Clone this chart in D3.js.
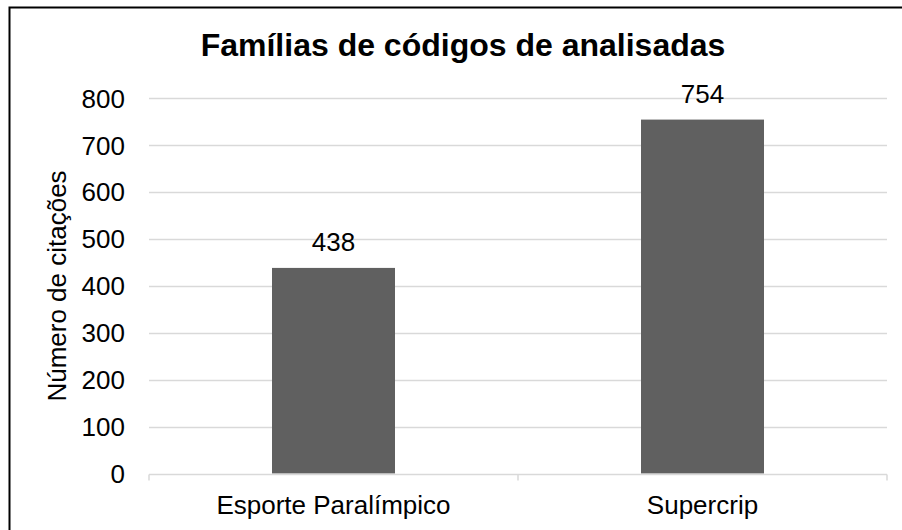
<!DOCTYPE html>
<html><head><meta charset="utf-8">
<script src="https://cdn.jsdelivr.net/npm/d3@7"></script>
<style>body{margin:0;background:#fff}svg{display:block}text{font-family:"Liberation Sans",Arial,sans-serif}</style>
</head><body>
<svg id="c" width="902" height="530"></svg>
<script>
const categories = ["Esporte Paralímpico", "Supercrip"];
const values = [438, 754];
const yTicks = [0, 100, 200, 300, 400, 500, 600, 700, 800];
const title = "Famílias de códigos de analisadas";
const yTitle = "Número de citações";

const svg = d3.select("#c");
svg.append("rect").attr("x", 0).attr("y", 0).attr("width", 902).attr("height", 530).attr("fill", "#fff");
svg.append("rect").attr("x", 9.5).attr("y", 7.5).attr("width", 910).attr("height", 540)
  .attr("fill", "none").attr("stroke", "#000").attr("stroke-width", 2);

const m = {left: 149, right: 887, top: 98, bottom: 473.5};
const x = d3.scaleBand().domain(categories).range([m.left, m.right]).paddingInner(0).paddingOuter(0);
const y = d3.scaleLinear().domain([0, 800]).range([m.bottom, m.top]);
const FS = 26;

// gridlines
svg.append("g").selectAll("line").data(yTicks.filter(d => d > 0)).join("line")
  .attr("x1", m.left).attr("x2", m.right)
  .attr("y1", d => Math.round(y(d)) + 0.5).attr("y2", d => Math.round(y(d)) + 0.5)
  .attr("stroke", "#d9d9d9").attr("stroke-width", 1.5);

// y axis labels
const yAxis = d3.axisLeft(y).tickValues(yTicks).tickSize(0).tickPadding(24);
const gy = svg.append("g").attr("transform", `translate(${m.left},0)`).call(yAxis);
gy.select(".domain").remove();
gy.selectAll("text").attr("font-size", FS).attr("fill", "#000").attr("font-family", '"Liberation Sans",Arial,sans-serif').attr("dy", "0.35em");

// bars
const bw = x.bandwidth() / 3;
svg.append("g").selectAll("rect").data(values).join("rect")
  .attr("x", (d, i) => x(categories[i]) + (x.bandwidth() - bw) / 2)
  .attr("width", bw)
  .attr("y", d => y(d)).attr("height", d => y(0) - y(d))
  .attr("fill", "#606060");

// x axis
const xAxis = d3.axisBottom(x).tickSize(0).tickPadding(21);
const gx = svg.append("g").attr("transform", `translate(0,${Math.round(y(0)) + 0.5})`).call(xAxis);
gx.select(".domain").attr("stroke", "#d9d9d9").attr("stroke-width", 1.5).attr("d", `M${m.left},0H${m.right}`);
gx.selectAll("text").attr("font-size", FS).attr("fill", "#000").attr("font-family", '"Liberation Sans",Arial,sans-serif');
const bounds = [m.left].concat(categories.map(c => x(c) + x.bandwidth()));
gx.append("g").selectAll("line").data(bounds).join("line")
  .attr("x1", d => d).attr("x2", d => d).attr("y1", 0).attr("y2", 6)
  .attr("stroke", "#d9d9d9").attr("stroke-width", 1.5);

// value labels
svg.append("g").selectAll("text").data(values).join("text")
  .attr("x", (d, i) => x(categories[i]) + x.bandwidth() / 2)
  .attr("y", d => y(d) - 17)
  .attr("text-anchor", "middle").attr("font-size", FS).attr("fill", "#000")
  .text(d => d);

// title
svg.append("text").attr("x", 463).attr("y", 56).attr("text-anchor", "middle")
  .attr("font-size", 32).attr("font-weight", "bold").attr("fill", "#000").text(title);

// y title
svg.append("text").attr("transform", `translate(66,286) rotate(-90)`)
  .attr("text-anchor", "middle").attr("font-size", FS).attr("fill", "#000").text(yTitle);
</script>
</body></html>
